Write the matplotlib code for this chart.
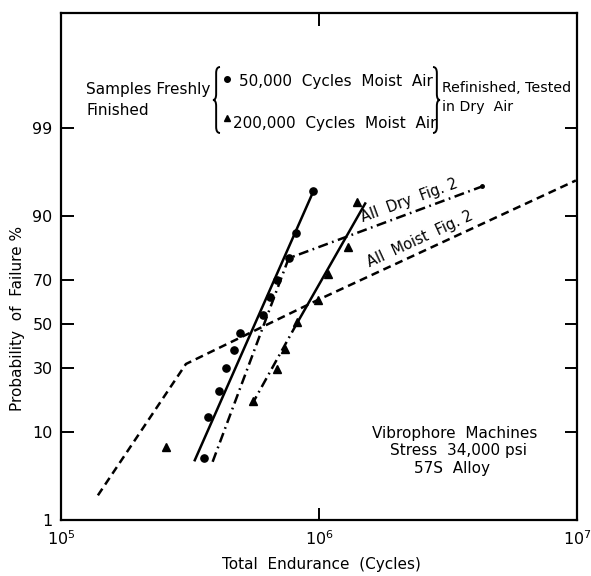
import numpy as np
import matplotlib
matplotlib.use("Agg")
import matplotlib.pyplot as plt
from matplotlib.path import Path
from matplotlib.patches import PathPatch
from statistics import NormalDist

# 50,000 cycles moist air (circles)
circ_cycles = [357e3, 371e3, 409e3, 435e3, 467e3, 493e3, 604e3, 643e3, 685e3, 763e3, 811e3, 952e3]
circ_pct = [5.6, 13.5, 21.3, 30, 38, 46, 54.5, 62.5, 70, 78.5, 86, 94.3]

# 200,000 cycles moist air (triangles)
tri_cycles = [255e3, 553e3, 685e3, 736e3, 819e3, 995e3, 1.088e6, 1.30e6, 1.40e6]
tri_pct = [7.2, 18, 29.7, 38.3, 51, 61.2, 72.3, 82, 92.6]

# fitted lines
circ_fit_cycles = [330e3, 952e3]
circ_fit_pct = [5.3, 94.3]
tri_fit_cycles = [818e3, 1.51e6]
tri_fit_pct = [50, 92.4]
tri_low_cycles = [548e3, 818e3]
tri_low_pct = [16.8, 50]

# reference curves from Fig. 2
dry_cycles = [387e3, 763e3, 4.29e6]
dry_pct = [5.1, 78.3, 94.9]
moist_cycles = [139e3, 305e3, 986e3, 9.9e6]
moist_pct = [2.1, 31.8, 61.2, 95.6]

yticks = [1, 10, 30, 50, 70, 90, 99]
xticks = [1e5, 1e6, 1e7]
xticklabels = ['$10^5$', '$10^6$', '$10^7$']

W, H = 591, 576

# normal probability scale
nd = NormalDist()
_ppf = np.vectorize(lambda p: nd.inv_cdf(min(max(p / 100.0, 1e-9), 1 - 1e-9)), otypes=[float])
_cdf = np.vectorize(lambda z: nd.cdf(z) * 100.0, otypes=[float])


def fwd(p):
    return _ppf(np.asarray(p, dtype=float))


def inv(z):
    return _cdf(np.asarray(z, dtype=float))


def fx(x):
    return x / W


def fy(y):
    return 1 - y / H


fig = plt.figure(figsize=(W / 100, H / 100), dpi=100)
ax = fig.add_axes([fx(61), fy(520), (577 - 61) / W, (520 - 13) / H])
ax.set_xscale('log')
ax.set_yscale('function', functions=(fwd, inv))

lw = 1.8
dash = (0, (3.2, 2.0))
dashdot = (0, (4.0, 1.8, 0.7, 1.8))

ax.plot(circ_fit_cycles, circ_fit_pct, color='black', lw=lw)
ax.plot(tri_fit_cycles, tri_fit_pct, color='black', lw=lw)
ax.plot(tri_low_cycles, tri_low_pct, color='black', lw=lw, linestyle=dashdot)
ax.plot(dry_cycles, dry_pct, color='black', lw=lw, linestyle=dashdot)
ax.plot(dry_cycles[-1:], dry_pct[-1:], 'o', color='black', ms=2.5)
ax.plot(moist_cycles, moist_pct, color='black', lw=lw, linestyle=dash)

ax.plot(circ_cycles, circ_pct, 'o', color='black', ms=5.2, ls='none')
ax.plot(tri_cycles, tri_pct, '^', color='black', ms=5.5, ls='none')

ax.set_xlim(1e5, 1e7)
ax.set_ylim(1, 99.989)
ax.set_xticks(xticks)
ax.set_xticklabels(xticklabels)
ax.xaxis.set_minor_locator(matplotlib.ticker.NullLocator())
ax.set_yticks(yticks)
ax.set_yticklabels([str(t) for t in yticks])
ax.yaxis.set_minor_locator(matplotlib.ticker.NullLocator())
ax.tick_params(direction='in', length=9, width=1.4, top=True, right=True,
               labelsize=11.5, color='black')
ax.tick_params(axis='x', pad=7)
ax.tick_params(axis='y', pad=6)
for s in ax.spines.values():
    s.set_linewidth(1.6)

fs = 11
fig.text(fx(86), fy(94), 'Samples Freshly', fontsize=fs, va='baseline')
fig.text(fx(87), fy(115), 'Finished', fontsize=fs, va='baseline')
fig.text(fx(239), fy(86), '50,000  Cycles  Moist  Air', fontsize=fs, va='baseline')
fig.text(fx(233), fy(128), '200,000  Cycles  Moist  Air', fontsize=fs, va='baseline')
fig.text(fx(442), fy(92), 'Refinished, Tested', fontsize=10.2, va='baseline')
fig.text(fx(442), fy(111), 'in Dry  Air', fontsize=10.2, va='baseline')

ax.plot([fx(227)], [fy(79)], 'o', color='black', ms=4, transform=fig.transFigure, clip_on=False)
ax.plot([fx(227)], [fy(118)], '^', color='black', ms=4, transform=fig.transFigure, clip_on=False)


def brace(x_tip, y_top, y_bot, w):
    ym = (y_top + y_bot) / 2
    xs = x_tip + w * 0.45
    r = 6
    pts = [(x_tip + w, y_top), (xs, y_top), (xs, y_top + r), (xs, ym - r),
           (xs, ym), (x_tip, ym), (xs, ym), (xs, ym + r), (xs, y_bot - r),
           (xs, y_bot), (x_tip + w, y_bot)]
    codes = [Path.MOVETO, Path.CURVE3, Path.CURVE3, Path.LINETO,
             Path.CURVE3, Path.CURVE3, Path.CURVE3, Path.CURVE3, Path.LINETO,
             Path.CURVE3, Path.CURVE3]
    verts = [(fx(a), fy(b)) for a, b in pts]
    fig.add_artist(PathPatch(Path(verts, codes), fill=False, lw=1.4,
                             color='black', transform=fig.transFigure))


brace(213, 67, 133, 7)
brace(440, 67, 133, -7)

fig.text(fx(363), fy(222), 'All  Dry  Fig. 2', fontsize=10.5, rotation=20,
         rotation_mode='anchor', va='baseline', ha='left')
fig.text(fx(370), fy(267), 'All  Moist  Fig. 2', fontsize=10.5, rotation=24.8,
         rotation_mode='anchor', va='baseline', ha='left')

fig.text(fx(455), fy(438), 'Vibrophore  Machines', fontsize=fs, ha='center', va='baseline')
fig.text(fx(458), fy(455), 'Stress  34,000 psi', fontsize=fs, ha='center', va='baseline')
fig.text(fx(452), fy(473), '57S  Alloy', fontsize=fs, ha='center', va='baseline')

fig.text(fx(18), fy(318), 'Probability  of  Failure %', fontsize=fs, rotation=90,
         ha='center', va='center')
fig.text(fx(321), fy(565), 'Total  Endurance  (Cycles)', fontsize=fs,
         ha='center', va='center')

fig.savefig('out.png', dpi=100)
